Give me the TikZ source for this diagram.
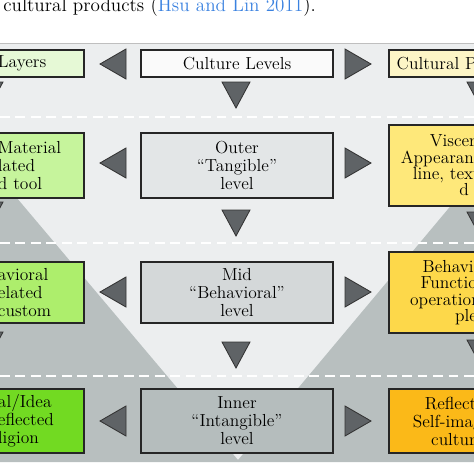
\documentclass[tikz,border=0pt]{standalone}
\usepackage{xcolor}
\definecolor{panelgray}{HTML}{ECEEEF}
\definecolor{vgray}{HTML}{B8BFBF}
\definecolor{trigray}{HTML}{5F6366}
\definecolor{refblue}{HTML}{3B82E0}
\definecolor{grn0}{HTML}{E6F9D6}
\definecolor{grn1}{HTML}{C6F49C}
\definecolor{grn2}{HTML}{ADEE6C}
\definecolor{grn3}{HTML}{72DA22}
\definecolor{mid0}{HTML}{FAFAFA}
\definecolor{mid1}{HTML}{E3E6E7}
\definecolor{mid2}{HTML}{D4D8D9}
\definecolor{mid3}{HTML}{B5BDBD}
\definecolor{yel0}{HTML}{FDF5C6}
\definecolor{yel1}{HTML}{FEE87A}
\definecolor{yel2}{HTML}{FDD84A}
\definecolor{yel3}{HTML}{FBB918}
\begin{document}
\begin{tikzpicture}[x=0.025cm,y=-0.025cm,
  box/.style={draw=black!85,line width=0.8pt,font=\fontsize{12.4}{12.8}\selectfont},
  midbox/.style={box,minimum width=4.8cm,align=center,inner sep=0pt},
  leftbox/.style={box,minimum width=2.25cm,text width=2.05cm,inner xsep=0.1cm,inner ysep=0pt,align=left},
  rightbox/.style={box,minimum width=4cm,text width=4cm,inner sep=0pt,align=left},
  tri/.style={fill=trigray,draw=black!80,line width=0.6pt,line join=miter},
  sep/.style={white,line width=1.4pt,dash pattern=on 7pt off 4pt}]
\useasboundingbox (0,0) rectangle (474,474);
\begin{scope}
\clip (0,0) rectangle (474,474);
\node[anchor=base west,inner sep=0pt,font=\fontsize{13.6}{14}\selectfont] (cap) at (3,11)
  {cultural products (\textcolor{refblue}{Hsu and Lin 2011}).};
\fill[panelgray] (0,43) rectangle (474,462);
\draw[black!25,line width=0.6pt] (0,43)--(474,43);
\fill[vgray] (0,178)--(238,460)--(238,462)--(0,462)--cycle;
\fill[vgray] (474,178)--(474,462)--(238,462)--(238,460)--cycle;
\foreach \y in {117,243,376}
  \draw[sep] (0,\y)--(474,\y);
\node[leftbox,fill=grn0,minimum height=0.675cm] (lay) at (39,63.5) {Layers};
\node[midbox,fill=mid0,minimum height=0.675cm] (lev) at (237,63.5) {Culture Levels};
\node[rightbox,fill=yel0,minimum height=0.675cm] (prod) at (469,63.5) {\hspace*{5.5pt}Cultural Pro};
\node[leftbox,fill=grn1,minimum height=1.625cm] (mat) at (39,165.5) {Material\\lated\\d tool};
\node[midbox,fill=mid1,minimum height=1.625cm] (outer) at (237,165.5) {Outer\\``Tangible''\\level};
\node[rightbox,fill=yel1,minimum height=2.025cm,font=\fontsize{12.4}{11.6}\selectfont] (visc) at (469,165.5)
  {\hspace*{29pt}Viscer\\\hspace*{8.5pt}Appearanc\\\hspace*{17pt}line, textu\\\hspace*{50pt}d};
\node[leftbox,fill=grn2,minimum height=1.525cm] (beh) at (39,292.5) {avioral\\elated\\custom};
\node[midbox,fill=mid2,minimum height=1.525cm] (mid) at (237,292.5) {Mid\\``Behavioral''\\level};
\node[rightbox,fill=yel2,minimum height=2.025cm,font=\fontsize{12.4}{11.6}\selectfont] (func) at (469,292.5)
  {\hspace*{24pt}Behavio\\\hspace*{22.5pt}Function\\\hspace*{15pt}operation\\\hspace*{47pt}ple};
\node[leftbox,fill=grn3,minimum height=1.6cm] (idea) at (39,421) {al/Idea\\eflected\\ligion};
\node[midbox,fill=mid3,minimum height=1.6cm] (inner) at (237,421) {Inner\\``Intangible''\\level};
\node[rightbox,fill=yel3,minimum height=1.6cm] (refl) at (469,421)
  {\hspace*{25.5pt}Reflecti\\\hspace*{17pt}Self-imag\\\hspace*{30pt}cultur};
\foreach \y in {64,163,292,421}{
  \draw[tri] (126,\y-15)--(100,\y)--(126,\y+15)--cycle;
  \draw[tri] (345,\y-15)--(371,\y)--(345,\y+15)--cycle;
}
\foreach \y in {82,210,342}
  \draw[tri] (222,\y)--(250,\y)--(236,\y+26)--cycle;
\foreach \y in {82,202,332}
  \draw[tri] (-25,\y)--(3,\y)--(-11,\y+26)--cycle;
\foreach \y in {82,212,340}
  \draw[tri] (467,\y)--(495,\y)--(481,\y+26)--cycle;
\end{scope}
\end{tikzpicture}
\end{document}
